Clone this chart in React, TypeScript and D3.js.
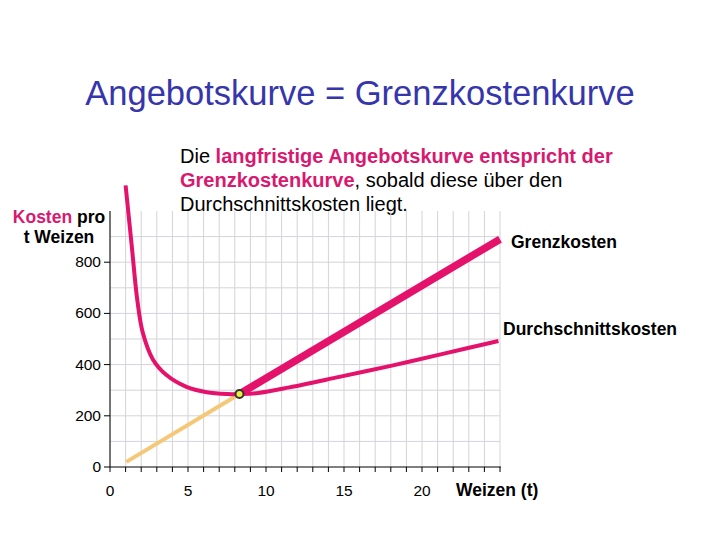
import React from "react";
import * as d3 from "d3";

// Data
const avgCostX = [1.0, 1.4, 1.75, 2.1, 2.75, 3.6, 4.9, 6.2, 7.5, 8.3, 9.5, 11.5, 14.7, 18.0, 21.2, 24.9];
const avgCostY = [1100, 860, 652, 525, 420, 360, 313, 292, 285, 285, 289, 311, 352, 395, 440, 492];
const mcLowX = [1.05, 8.3];
const mcLowY = [20, 285];
const mcHighX = [8.3, 25];
const mcHighY = [285, 890];
const supplyPoint = { x: 8.3, y: 285 };
const xTickLabels = [0, 5, 10, 15, 20];
const yTickLabels = [0, 200, 400, 600, 800];

const PINK = "#e5126c";
const FONT = "'Liberation Sans', Arial, Helvetica, sans-serif";

export default function App() {
  const x = d3.scaleLinear().domain([0, 25]).range([110, 500]);
  const y = d3.scaleLinear().domain([0, 1000]).range([467, 211]);

  const xGrid = d3.range(0, 26);
  const yGrid = d3.range(100, 1000, 100);

  const line = d3
    .line<[number, number]>()
    .x((d) => x(d[0]))
    .y((d) => y(d[1]));
  const smooth = d3
    .line<[number, number]>()
    .x((d) => x(d[0]))
    .y((d) => y(d[1]))
    .curve(d3.curveCatmullRom.alpha(0.5));

  const acPts = avgCostX.map((v, i) => [v, avgCostY[i]] as [number, number]);
  const mcLow = mcLowX.map((v, i) => [v, mcLowY[i]] as [number, number]);
  const mcHigh = mcHighX.map((v, i) => [v, mcHighY[i]] as [number, number]);

  return (
    <svg
      width={720}
      height={540}
      style={{ position: "absolute", left: 0, top: 0, background: "#fff" }}
      fontFamily={FONT}
    >
      <rect width={720} height={540} fill="#fff" />
      <text x={360} y={105} textAnchor="middle" fontSize={34.5} fill="#3636ac">
        Angebotskurve = Grenzkostenkurve
      </text>

      <text x={180} y={163} fontSize={20} fill="#000">
        Die <tspan fill="#d8196f" fontWeight="bold">langfristige Angebotskurve entspricht der</tspan>
      </text>
      <text x={180} y={187} fontSize={20} fill="#000">
        <tspan fill="#d8196f" fontWeight="bold">Grenzkostenkurve</tspan>, sobald diese über den
      </text>
      <text x={180} y={211} fontSize={20} fill="#000">
        Durchschnittskosten liegt.
      </text>

      {/* grid */}
      <g stroke="#d3d3da" strokeWidth={1}>
        {xGrid.map((v) => (
          <line key={"gx" + v} x1={x(v)} x2={x(v)} y1={y(0)} y2={y(1000)} />
        ))}
        {yGrid.map((v) => (
          <line key={"gy" + v} x1={x(0)} x2={x(25)} y1={y(v)} y2={y(v)} />
        ))}
      </g>

      {/* axes */}
      <g stroke="#000" strokeWidth={1}>
        <line x1={x(0)} x2={x(0)} y1={y(0)} y2={y(1000)} />
        <line x1={x(0)} x2={x(25) + 1} y1={y(0)} y2={y(0)} />
        {xGrid.map((v) => (
          <line key={"tx" + v} x1={x(v)} x2={x(v)} y1={y(0)} y2={y(0) + 5} />
        ))}
        {yTickLabels.map((v) => (
          <line key={"ty" + v} x1={x(0) - 6} x2={x(0)} y1={y(v)} y2={y(v)} />
        ))}
      </g>
      {xTickLabels.map((v) => (
        <text key={"lx" + v} x={x(v)} y={496} textAnchor="middle" fontSize={15.5} fill="#000">
          {v}
        </text>
      ))}
      {yTickLabels.map((v) => (
        <text key={"ly" + v} x={101} y={y(v) + 5} textAnchor="end" fontSize={15.5} fill="#000">
          {v}
        </text>
      ))}

      <text x={59} y={223} textAnchor="middle" fontSize={17.5} fontWeight="bold" fill="#000">
        <tspan fill="#d8196f">Kosten</tspan> pro
      </text>
      <text x={59} y={243} textAnchor="middle" fontSize={17.5} fontWeight="bold" fill="#000">
        t Weizen
      </text>
      <text x={456} y={496} fontSize={17.5} fontWeight="bold" fill="#000">
        Weizen (t)
      </text>
      <text x={511} y={248} fontSize={17.5} fontWeight="bold" fill="#000">
        Grenzkosten
      </text>
      <text x={503} y={335} fontSize={17.5} fontWeight="bold" fill="#000">
        Durchschnittskosten
      </text>

      {/* curves */}
      <path d={line(mcLow) || ""} fill="none" stroke="#f5c878" strokeWidth={4} />
      <path d={smooth(acPts) || ""} fill="none" stroke={PINK} strokeWidth={4} strokeLinejoin="round" />
      <path d={line(mcHigh) || ""} fill="none" stroke={PINK} strokeWidth={7.5} />
      <circle
        cx={x(supplyPoint.x)}
        cy={y(supplyPoint.y)}
        r={4}
        fill="#eeee40"
        stroke="#333"
        strokeWidth={2}
      />
    </svg>
  );
}
